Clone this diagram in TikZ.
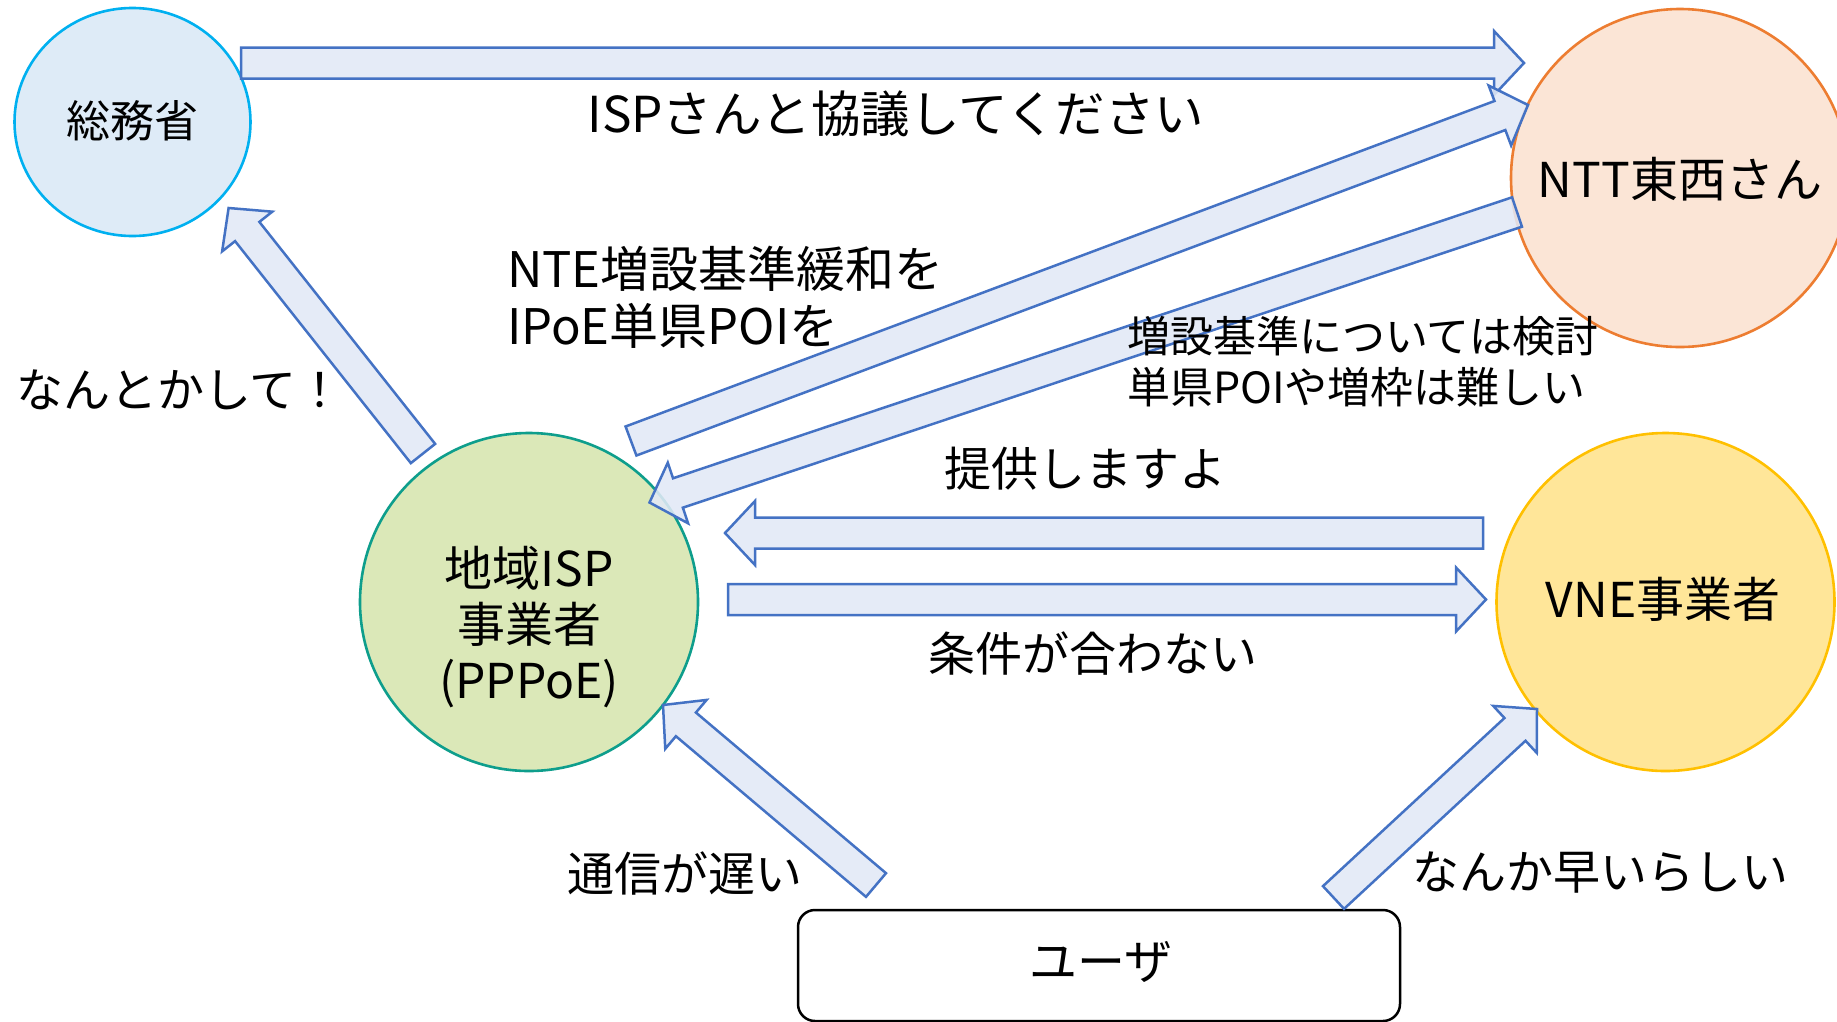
\documentclass[tikz,border=0pt]{standalone}
\usepackage{fontspec}
\setmainfont{Noto Sans CJK JP}
\usetikzlibrary{calc,shapes.geometric}

\definecolor{somuF}{HTML}{DEEBF7}\definecolor{somuD}{HTML}{00B0F0}
\definecolor{nttF}{HTML}{FBE5D6}\definecolor{nttD}{HTML}{ED7D31}
\definecolor{ispF}{HTML}{DBE8B8}\definecolor{ispD}{HTML}{0E9E8C}
\definecolor{vneF}{HTML}{FFE699}\definecolor{vneD}{HTML}{FFC000}
\definecolor{arrF}{HTML}{E2E9F6}\definecolor{arrD}{HTML}{4472C4}

\newcommand{\fsz}[2]{\fontsize{#1pt}{#2pt}\selectfont}
\newcommand{\blockarrow}[2]{%
  \path ($(#2)!30pt!(#1)$) coordinate (hb);
  \draw[barrow] ($(#1)!15.5pt!90:(#2)$) -- ($(hb)!15.5pt!90:(#2)$) -- ($(hb)!32pt!90:(#2)$) -- (#2)
    -- ($(hb)!32pt!-90:(#2)$) -- ($(hb)!15.5pt!-90:(#2)$) -- ($(#1)!15.5pt!-90:(#2)$) -- cycle;}

\tikzset{
  circ/.style={ellipse, line width=2.6pt, inner sep=0pt},
  barrow/.style={draw=arrD, fill=arrF, fill opacity=0.88, line width=2.5pt, line join=miter},
  lbl/.style={inner sep=0pt, align=left, text=black},
}

\begin{document}
\begin{tikzpicture}[x=1pt, y=-1pt]
\useasboundingbox (0,0) rectangle (1837,1021);
\clip (0,0) rectangle (1837,1021);
\fill[white] (0,0) rectangle (1837,1021);

% nodes
\node[circ, fill=somuF, draw=somuD, minimum width=236pt, minimum height=228pt] (somu) at (132.5,122) {};
\node[lbl, align=center, font=\fsz{44}{50}] (somut) at (132.5,121) {総務省};
\node[circ, fill=nttF, draw=nttD, minimum width=338pt, minimum height=338pt] (ntt) at (1680,178) {};
\node[lbl, align=center, font=\fsz{48}{56}] (nttt) at (1680,179) {NTT東西さん};
\node[circ, fill=ispF, draw=ispD, minimum width=338pt, minimum height=338pt] (isp) at (529,602) {};
\node[lbl, align=center, font=\fsz{48}{56}] (ispt) at (529,627) {地域ISP\\事業者\\(PPPoE)};
\node[circ, fill=vneF, draw=vneD, minimum width=338pt, minimum height=338pt] (vne) at (1665.5,602) {};
\node[lbl, align=center, font=\fsz{48}{56}] (vnet) at (1663,599) {VNE事業者};
\node[draw=black, line width=2.5pt, rounded corners=17pt, minimum width=602pt, minimum height=111pt, inner sep=0pt] (user) at (1099,965.5) {};
\node[lbl, align=center, font=\fsz{48}{56}] (usert) at (1101,962) {ユーザ};

% arrow end points
\coordinate (a1s) at (241,63);      \coordinate (a1e) at (1524,63);
\coordinate (a2s) at (631,441);     \coordinate (a2e) at (1528,105);
\coordinate (a3s) at (1517,212);    \coordinate (a3e) at (649.5,502.5);
\coordinate (a4s) at (1483,533);    \coordinate (a4e) at (725,533);
\coordinate (a5s) at (728,599.5);   \coordinate (a5e) at (1486,599.5);
\coordinate (a6s) at (423,453.5);   \coordinate (a6e) at (228.6,208);
\coordinate (a7s) at (876,885);     \coordinate (a7e) at (663,705);
\coordinate (a8s) at (1333.5,897.5);\coordinate (a8e) at (1537,709);

\blockarrow{a1s}{a1e}
\blockarrow{a2s}{a2e}
\blockarrow{a3s}{a3e}
\blockarrow{a4s}{a4e}
\blockarrow{a5s}{a5e}
\blockarrow{a6s}{a6e}
\blockarrow{a7s}{a7e}
\blockarrow{a8s}{a8e}

% labels
\node[lbl, anchor=center, font=\fsz{49.5}{60}] (l1) at (896,114) {ISPさんと協議してください};
\node[lbl, anchor=west, font=\fsz{49}{57}] (l2) at (507,297.5) {NTE増設基準緩和を\\IPoE単県POIを};
\node[lbl, anchor=west, font=\fsz{43}{51}] (l3) at (1127,361.5) {増設基準については検討\\単県POIや増枠は難しい};
\node[lbl, anchor=west, font=\fsz{47}{56}] (l4) at (16,390) {なんとかして！};
\node[lbl, anchor=west, font=\fsz{47}{56}] (l5) at (944,469) {提供しますよ};
\node[lbl, anchor=west, font=\fsz{47}{56}] (l6) at (928,654) {条件が合わない};
\node[lbl, anchor=west, font=\fsz{47}{56}] (l7) at (567,873) {通信が遅い};
\node[lbl, anchor=west, font=\fsz{47}{56}] (l8) at (1412,873) {なんか早いらしい};
\end{tikzpicture}
\end{document}
